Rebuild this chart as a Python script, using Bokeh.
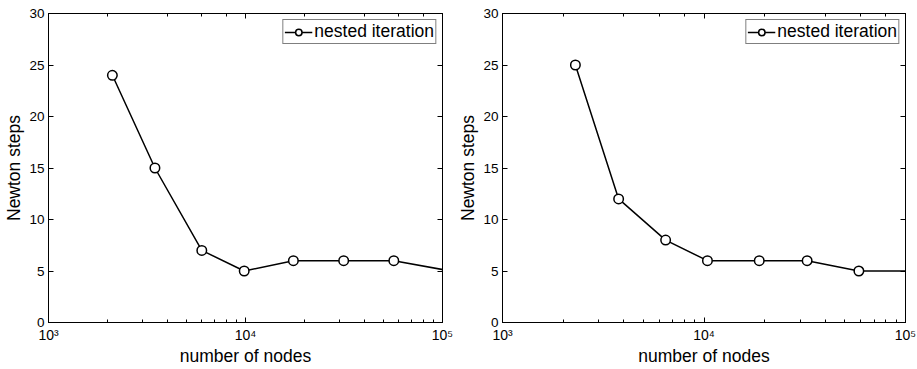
from bokeh.plotting import figure
from bokeh.layouts import row
from bokeh.models import LinearAxis, LogAxis, Range1d, FixedTicker, CustomJSTickFormatter
from bokeh.embed import file_html
from bokeh.resources import INLINE

# Data
nodes_left = [2110, 3470, 6000, 9850, 17500, 31500, 56600, 110000]
steps_left = [24, 15, 7, 5, 6, 6, 6, 5]
nodes_right = [2300, 3770, 6450, 10400, 18800, 32500, 58700, 110000]
steps_right = [25, 12, 8, 6, 6, 6, 5, 5]
y_ticks = [0, 5, 10, 15, 20, 25, 30]
x_tick_labels = {1000: "10³", 10000: "10⁴", 100000: "10⁵"}
series_label = "nested iteration"
x_title = "number of nodes"
y_title = "Newton steps"

FONT = "Liberation Sans"


def style_axis(ax, labels=True):
    ax.axis_line_color = "black"
    ax.major_tick_line_color = "black"
    ax.minor_tick_line_color = "black"
    ax.major_tick_in = 5
    ax.major_tick_out = 0
    ax.minor_tick_in = 3
    ax.minor_tick_out = 0
    ax.major_label_text_font = FONT
    ax.major_label_text_color = "black"
    ax.axis_label_text_font = FONT
    ax.axis_label_text_font_style = "normal"
    ax.axis_label_text_color = "black"
    if not labels:
        ax.major_label_text_font_size = "0px"
        ax.major_label_standoff = 0
        ax.formatter = CustomJSTickFormatter(code="return ''")


def make_panel(xs, ys, width, left_border, right_border):
    p = figure(width=width, height=368, x_axis_type="log",
               x_range=Range1d(1e3, 1e5), y_range=Range1d(0, 30),
               output_backend="svg", toolbar_location=None,
               min_border_left=left_border, min_border_right=right_border,
               min_border_top=13, min_border_bottom=44)
    p.xgrid.visible = False
    p.ygrid.visible = False
    p.outline_line_color = "black"
    p.outline_line_width = 1
    p.background_fill_color = "white"

    xa = p.xaxis[0]
    style_axis(xa)
    xa.major_label_overrides = x_tick_labels
    xa.major_label_text_font_size = "14px"
    xa.major_label_standoff = 4
    xa.axis_label = x_title
    xa.axis_label_text_font_size = "17.5px"
    xa.axis_label_standoff = 0

    ya = p.yaxis[0]
    style_axis(ya)
    ya.ticker = FixedTicker(ticks=y_ticks)
    ya.minor_tick_line_color = None
    ya.major_label_text_font_size = "13.5px"
    ya.major_label_standoff = 4
    ya.axis_label = y_title
    ya.axis_label_text_font_size = "17.5px"
    ya.axis_label_standoff = 2

    top = LogAxis()
    style_axis(top, labels=False)
    p.add_layout(top, "above")

    right = LinearAxis(ticker=FixedTicker(ticks=y_ticks))
    style_axis(right, labels=False)
    right.minor_tick_line_color = None
    p.add_layout(right, "right")

    p.line(xs, ys, line_color="black", line_width=1.5, legend_label=series_label)
    p.scatter(xs, ys, marker="circle", size=9.5, fill_color="white",
              line_color="black", line_width=1.5, legend_label=series_label)

    lg = p.legend[0]
    lg.location = "top_right"
    lg.border_line_color = "black"
    lg.border_line_width = 1
    lg.label_text_font = FONT
    lg.label_text_font_size = "17.5px"
    lg.label_text_color = "black"
    lg.glyph_width = 28
    lg.glyph_height = 16
    lg.padding = 1
    lg.spacing = 0
    lg.margin = 6
    lg.label_standoff = 2
    lg.label_height = 16
    lg.background_fill_alpha = 1
    return p


p1 = make_panel(nodes_left, steps_left, 454, 48, 12)
p2 = make_panel(nodes_right, steps_right, 462, 48, 11)
layout = row(p1, p2, spacing=0)

open("out.html", "w").write(file_html(layout, INLINE))
